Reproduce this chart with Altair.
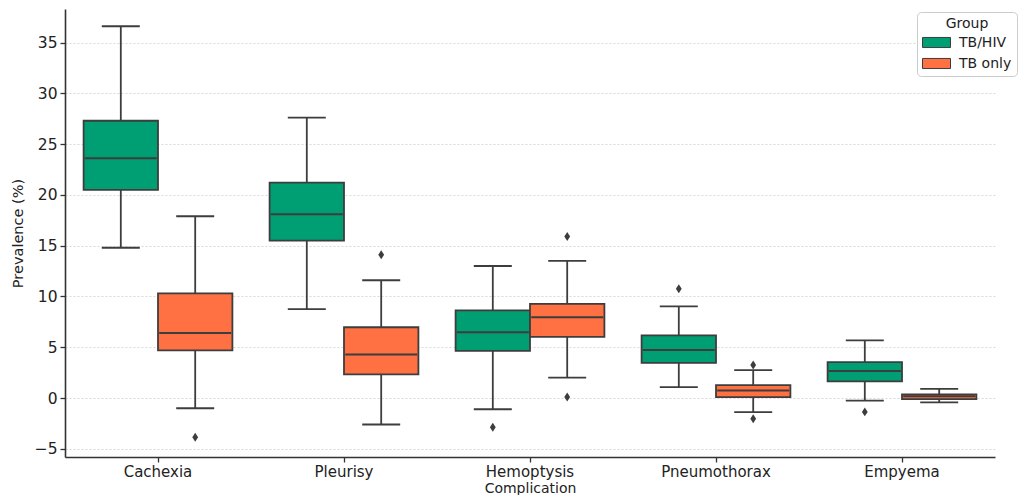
import altair as alt
import pandas as pd

complications = ["Cachexia", "Pleurisy", "Hemoptysis", "Pneumothorax", "Empyema"]
groups = ["TB/HIV", "TB only"]
colors = ["#009E73", "#FF7043"]

# box statistics (lower whisker, Q1, median, Q3, upper whisker)
hiv_low = [14.8, 8.75, -1.1, 1.07, -0.25]
hiv_q1 = [20.5, 15.5, 4.64, 3.47, 1.65]
hiv_med = [23.6, 18.1, 6.49, 4.74, 2.66]
hiv_q3 = [27.3, 21.2, 8.63, 6.17, 3.54]
hiv_high = [36.6, 27.6, 13.0, 9.02, 5.68]

tb_low = [-1.0, -2.6, 2.01, -1.39, -0.42]
tb_q1 = [4.7, 2.33, 6.03, 0.1, -0.1]
tb_med = [6.4, 4.3, 7.95, 0.75, 0.17]
tb_q3 = [10.3, 6.97, 9.28, 1.27, 0.36]
tb_high = [17.9, 11.6, 13.5, 2.76, 0.91]

out_complication = ["Cachexia", "Pleurisy", "Hemoptysis", "Hemoptysis", "Hemoptysis",
                    "Pneumothorax", "Pneumothorax", "Pneumothorax", "Empyema"]
out_group = ["TB only", "TB only", "TB/HIV", "TB only", "TB only",
             "TB/HIV", "TB only", "TB only", "TB/HIV"]
out_value = [-3.85, 14.1, -2.88, 15.9, 0.1, 10.77, 3.25, -2.04, -1.36]

rows = []
for g, stats in [("TB/HIV", (hiv_low, hiv_q1, hiv_med, hiv_q3, hiv_high)),
                 ("TB only", (tb_low, tb_q1, tb_med, tb_q3, tb_high))]:
    for i, c in enumerate(complications):
        rows.append({"Complication": c, "Group": g, "low": stats[0][i], "q1": stats[1][i],
                     "median": stats[2][i], "q3": stats[3][i], "high": stats[4][i]})
box_df = pd.DataFrame(rows)
out_df = pd.DataFrame({"Complication": out_complication, "Group": out_group, "value": out_value})

EDGE = "#3d3d3d"
FONT = "DejaVu Sans"

x_enc = alt.X("Complication:N", sort=complications,
              scale=alt.Scale(domain=complications, paddingInner=0, paddingOuter=0),
              axis=alt.Axis(title="Complication", labelAngle=0, labelFontSize=15,
                            titleFontSize=14, labelPadding=2, titlePadding=2))
xo_enc = alt.XOffset("Group:N", sort=groups,
                     scale=alt.Scale(domain=groups, paddingInner=0, paddingOuter=0.25))
y_scale = alt.Scale(domain=[-5.8, 38.3], nice=False, zero=False)

base = alt.Chart(box_df)

boxes = base.mark_bar(stroke=EDGE, strokeWidth=1.8).encode(
    x=x_enc, xOffset=xo_enc,
    y=alt.Y("q1:Q", scale=y_scale,
            axis=alt.Axis(title="Prevalence (%)", values=[-5, 0, 5, 10, 15, 20, 25, 30, 35],
                          grid=True, gridDash=[2, 2], gridColor="#cfcfcf", gridWidth=0.8,
                          labelFontSize=15.5, titleFontSize=14.5, titlePadding=9, labelPadding=3)),
    y2="q3:Q",
    color=alt.Color("Group:N", scale=alt.Scale(domain=groups, range=colors),
                    legend=alt.Legend(title="Group", orient="none", legendX=852, legendY=3,
                                      titleAnchor="middle", titleFontSize=14,
                                      titleFontWeight="normal", labelFontSize=14,
                                      titlePadding=4,
                                      symbolType="M-1,-0.72L3,-0.72L3,0.72L-1,0.72Z",
                                      symbolSize=196, symbolStrokeColor=EDGE,
                                      symbolStrokeWidth=1, strokeColor="#cccccc",
                                      fillColor="white", padding=5, cornerRadius=4,
                                      rowPadding=6, labelOffset=22)),
)

whisk_lo = base.mark_rule(color=EDGE, strokeWidth=1.8).encode(
    x=x_enc, xOffset=xo_enc, y="low:Q", y2="q1:Q")
whisk_hi = base.mark_rule(color=EDGE, strokeWidth=1.8).encode(
    x=x_enc, xOffset=xo_enc, y="q3:Q", y2="high:Q")
cap_lo = base.mark_tick(color=EDGE, size=38, thickness=1.8, opacity=1).encode(
    x=x_enc, xOffset=xo_enc, y="low:Q")
cap_hi = base.mark_tick(color=EDGE, size=38, thickness=1.8, opacity=1).encode(
    x=x_enc, xOffset=xo_enc, y="high:Q")
medians = base.mark_tick(color=EDGE, size=72, thickness=2, opacity=1).encode(
    x=x_enc, xOffset=xo_enc, y="median:Q")

outliers = alt.Chart(out_df).mark_point(
    shape="M0,-1L0.65,0L0,1L-0.65,0Z", filled=True, color=EDGE, size=80, opacity=1
).encode(x=x_enc, xOffset=xo_enc, y="value:Q")

chart = alt.layer(whisk_lo, whisk_hi, cap_lo, cap_hi, boxes, medians, outliers).properties(
    width=930, height=448,
    autosize=alt.AutoSizeParams(type="none"),
    padding={"left": 57, "top": 1, "right": 24, "bottom": 38},
).configure_view(stroke=None).configure_axis(
    labelFont=FONT, titleFont=FONT, labelColor="#222222", titleColor="#222222",
    titleFontWeight="normal", domainColor="#333333", domainWidth=1.6,
    tickColor="#333333", tickWidth=1.3, tickSize=5,
).configure_legend(labelFont=FONT, titleFont=FONT, labelColor="#222222", titleColor="#222222")

chart.save("out.html", embed_options={"renderer": "svg", "actions": False})
